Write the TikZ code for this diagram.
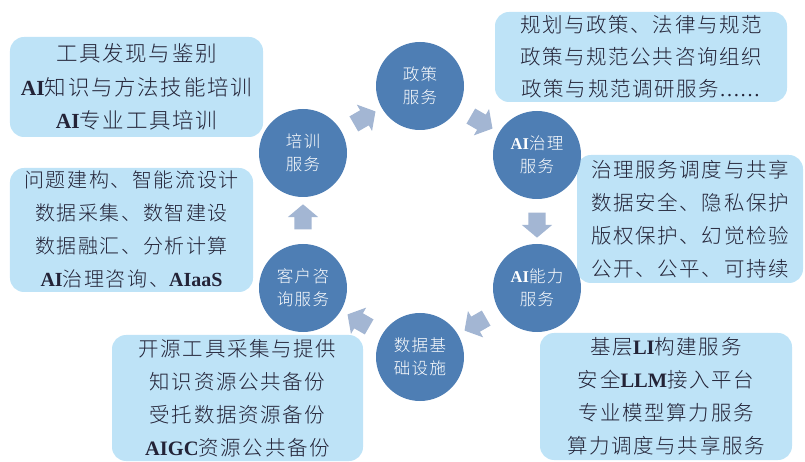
\documentclass[tikz,border=0pt]{standalone}
\usepackage{fontspec}
\setmainfont{Liberation Serif}
\newfontfamily\cjk[UprightFont={* Light},LetterSpace=8]{Noto Sans CJK SC}
\usetikzlibrary{shapes.arrows,calc}
\definecolor{circfill}{RGB}{78,126,180}
\definecolor{boxfill}{RGB}{190,227,247}
\definecolor{arrowfill}{RGB}{163,182,211}
\definecolor{boxtext}{RGB}{35,35,55}
\newcommand\en[1]{{\rmfamily\bfseries #1}}
\begin{document}
\begin{tikzpicture}[x=1bp,y=-1bp,
  infobox/.style={rectangle, rounded corners=14bp, fill=boxfill, inner sep=0pt,
    align=center, text=boxtext, font=\cjk\fontsize{20.5bp}{33bp}\selectfont},
  svc/.style={circle, fill=circfill, minimum size=88bp, inner sep=0pt,
    align=center, text=white, font=\cjk\fontsize{16.5bp}{23bp}\selectfont},
  blockarrow/.style={single arrow, fill=arrowfill, inner xsep=0pt, inner ysep=8.5bp,
    single arrow head extend=6.5bp, single arrow tip angle=100, minimum height=25bp}]
\useasboundingbox (0,0) rectangle (805,462);
% boxes
\node[infobox, minimum width=253bp, minimum height=100bp,
  font=\cjk\fontsize{21.5bp}{33.5bp}\selectfont] (b1) at (136.5,87)
  {工具发现与鉴别\\\en{AI}知识与方法技能培训\\\en{AI}专业工具培训};
\node[infobox, minimum width=292bp, minimum height=90bp,
  font=\cjk\fontsize{20.5bp}{32bp}\selectfont] (b2) at (641,57)
  {规划与政策、法律与规范\\政策与规范公共咨询组织\\政策与规范调研服务{\rmfamily ……}};
\node[infobox, minimum width=226bp, minimum height=128bp] (b3) at (690,219)
  {治理服务调度与共享\\数据安全、隐私保护\\版权保护、幻觉检验\\公开、公平、可持续};
\node[infobox, minimum width=243bp, minimum height=124bp,
  font=\cjk\fontsize{20bp}{33bp}\selectfont] (b4) at (131.5,230)
  {问题建构、智能流设计\\数据采集、数智建设\\数据融汇、分析计算\\\en{AI}治理咨询、\en{AIaaS}};
\node[infobox, minimum width=251bp, minimum height=126bp] (b5) at (237.5,398)
  {开源工具采集与提供\\知识资源公共备份\\受托数据资源备份\\\en{AIGC}资源公共备份};
\node[infobox, minimum width=252bp, minimum height=127bp] (b6) at (666,396.5)
  {基层\en{LI}构建服务\\安全\en{LLM}接入平台\\专业模型算力服务\\算力调度与共享服务};
% circles
\node[svc] (px) at (303,153) {培训\\服务};
\node[svc] (zc) at (420,86) {政策\\服务};
\node[svc] (zl) at (537,155) {\en{AI}治理\\服务};
\node[svc] (nl) at (537,288) {\en{AI}能力\\服务};
\node[svc] (sj) at (420,357) {数据基\\础设施};
\node[svc] (kh) at (303,288) {客户咨\\询服务};
% arrows
\node[blockarrow, rotate=30] (a1) at ($(px)!0.5!(zc)$) {};
\node[blockarrow, rotate=-30] (a2) at ($(zc)!0.5!(zl)$) {};
\node[blockarrow, rotate=-90] (a3) at ($(zl)!0.5!(nl)$) {};
\node[blockarrow, rotate=210] (a4) at ($(nl)!0.5!(sj)$) {};
\node[blockarrow, rotate=150] (a5) at ($(sj)!0.5!(kh)$) {};
\node[blockarrow, rotate=90] (a6) at ($(kh)!0.5!(px)$) {};
\end{tikzpicture}
\end{document}
